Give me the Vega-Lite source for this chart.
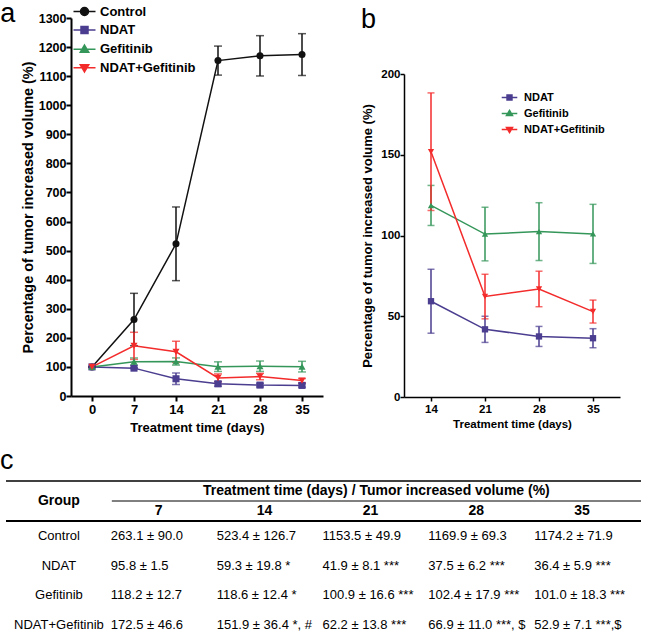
{
  "$schema": "https://vega.github.io/schema/vega-lite/v6.json",
  "padding": {"left": 0, "top": 0, "right": 0, "bottom": 0},
  "background": "white",
  "config": {
    "view": {"stroke": null},
    "font": "Liberation Sans",
    "title": {"font": "Liberation Sans", "color": "black"},
    "text": {"font": "Liberation Sans", "color": "black"},
    "axis": {
      "labelFont": "Liberation Sans", "titleFont": "Liberation Sans",
      "labelFontWeight": "bold", "titleFontWeight": "bold",
      "labelColor": "black", "titleColor": "black",
      "domainColor": "black", "domainWidth": 2, "tickColor": "black", "tickWidth": 2, "tickSize": 5,
      "grid": false, "format": "d"
    },
    "legend": {"labelFont": "Liberation Sans", "labelColor": "black", "labelFontWeight": "bold", "padding": 0}
  },
  "datasets": {
    "growth": [
      {"group": "Control", "day": 0, "mean": 100, "sd": 0},
      {"group": "Control", "day": 7, "mean": 263.1, "sd": 90.0},
      {"group": "Control", "day": 14, "mean": 523.4, "sd": 126.7},
      {"group": "Control", "day": 21, "mean": 1153.5, "sd": 49.9},
      {"group": "Control", "day": 28, "mean": 1169.9, "sd": 69.3},
      {"group": "Control", "day": 35, "mean": 1174.2, "sd": 71.9},
      {"group": "NDAT", "day": 0, "mean": 100, "sd": 0},
      {"group": "NDAT", "day": 7, "mean": 95.8, "sd": 1.5},
      {"group": "NDAT", "day": 14, "mean": 59.3, "sd": 19.8},
      {"group": "NDAT", "day": 21, "mean": 41.9, "sd": 8.1},
      {"group": "NDAT", "day": 28, "mean": 37.5, "sd": 6.2},
      {"group": "NDAT", "day": 35, "mean": 36.4, "sd": 5.9},
      {"group": "Gefitinib", "day": 0, "mean": 100, "sd": 0},
      {"group": "Gefitinib", "day": 7, "mean": 118.2, "sd": 12.7},
      {"group": "Gefitinib", "day": 14, "mean": 118.6, "sd": 12.4},
      {"group": "Gefitinib", "day": 21, "mean": 100.9, "sd": 16.6},
      {"group": "Gefitinib", "day": 28, "mean": 102.4, "sd": 17.9},
      {"group": "Gefitinib", "day": 35, "mean": 101.0, "sd": 18.3},
      {"group": "NDAT+Gefitinib", "day": 0, "mean": 100, "sd": 0},
      {"group": "NDAT+Gefitinib", "day": 7, "mean": 172.5, "sd": 46.6},
      {"group": "NDAT+Gefitinib", "day": 14, "mean": 151.9, "sd": 36.4},
      {"group": "NDAT+Gefitinib", "day": 21, "mean": 62.2, "sd": 13.8},
      {"group": "NDAT+Gefitinib", "day": 28, "mean": 66.9, "sd": 11.0},
      {"group": "NDAT+Gefitinib", "day": 35, "mean": 52.9, "sd": 7.1}
    ],
    "cells": [
      {"group": "Control", "col": "7", "cell": "263.1 ± 90.0"},
      {"group": "Control", "col": "14", "cell": "523.4 ± 126.7"},
      {"group": "Control", "col": "21", "cell": "1153.5 ± 49.9"},
      {"group": "Control", "col": "28", "cell": "1169.9 ± 69.3"},
      {"group": "Control", "col": "35", "cell": "1174.2 ± 71.9"},
      {"group": "NDAT", "col": "7", "cell": "95.8 ± 1.5"},
      {"group": "NDAT", "col": "14", "cell": "59.3 ± 19.8 *"},
      {"group": "NDAT", "col": "21", "cell": "41.9 ± 8.1 ***"},
      {"group": "NDAT", "col": "28", "cell": "37.5 ± 6.2 ***"},
      {"group": "NDAT", "col": "35", "cell": "36.4 ± 5.9 ***"},
      {"group": "Gefitinib", "col": "7", "cell": "118.2 ± 12.7"},
      {"group": "Gefitinib", "col": "14", "cell": "118.6 ± 12.4 *"},
      {"group": "Gefitinib", "col": "21", "cell": "100.9 ± 16.6 ***"},
      {"group": "Gefitinib", "col": "28", "cell": "102.4 ± 17.9 ***"},
      {"group": "Gefitinib", "col": "35", "cell": "101.0 ± 18.3 ***"},
      {"group": "NDAT+Gefitinib", "col": "7", "cell": "172.5 ± 46.6"},
      {"group": "NDAT+Gefitinib", "col": "14", "cell": "151.9 ± 36.4 *, #"},
      {"group": "NDAT+Gefitinib", "col": "21", "cell": "62.2 ± 13.8 ***"},
      {"group": "NDAT+Gefitinib", "col": "28", "cell": "66.9 ± 11.0 ***, $"},
      {"group": "NDAT+Gefitinib", "col": "35", "cell": "52.9 ± 7.1 ***,$"}
    ]
  },
  "vconcat": [
    {
      "hconcat": [
        {"width": 1, "height": 1, "data": {"values": []}, "mark": {"type": "point", "opacity": 0}},
        {
          "hconcat": [
            {
              "width": 252, "height": 378,
              "data": {"name": "growth"},
              "title": {"text": "a", "anchor": "start", "frame": "bounds", "fontSize": 27, "fontWeight": "normal", "baseline": "alphabetic", "offset": -44, "dx": -20},
              "encoding": {
                "x": {"field": "day", "type": "quantitative", "scale": {"domain": [-3.5, 38.5], "nice": false, "zero": false},
                      "axis": {"values": [0, 7, 14, 21, 28, 35], "title": "Treatment time (days)", "labelFontSize": 13, "titleFontSize": 13, "labelPadding": 2, "titlePadding": 5}},
                "y": {"field": "mean", "type": "quantitative", "scale": {"domain": [0, 1300], "nice": false},
                      "axis": {"values": [0, 100, 200, 300, 400, 500, 600, 700, 800, 900, 1000, 1100, 1200, 1300], "title": "Percentage of tumor increased volume (%)", "labelFontSize": 12.5, "titleFontSize": 14.4, "labelPadding": 0, "titlePadding": 3}},
                "color": {"field": "group", "type": "nominal",
                          "scale": {"domain": ["Control", "NDAT", "Gefitinib", "NDAT+Gefitinib"], "range": ["#111111", "#4b3d8f", "#35965a", "#f32b2b"]},
                          "legend": {"orient": "none", "legendX": 7, "legendY": -13, "title": null, "labelFontSize": 13, "symbolSize": 100, "rowPadding": 4.4, "labelOffset": 9,
                                     "encode": {"symbols": {"update": {
                                       "shape": {"signal": "datum.value === 'Control' ? 'M-2.2,0H2.2M-0.8,0C-0.8,-0.44,-0.44,-0.8,0,-0.8C0.44,-0.8,0.8,-0.44,0.8,0C0.8,0.44,0.44,0.8,0,0.8C-0.44,0.8,-0.8,0.44,-0.8,0Z' : datum.value === 'NDAT' ? 'M-2.2,0H2.2M-0.7,-0.7H0.7V0.7H-0.7Z' : datum.value === 'Gefitinib' ? 'M-2.2,0H2.2M0,-0.85L0.85,0.6H-0.85Z' : 'M-2.2,0H2.2M0,0.85L0.85,-0.6H-0.85Z'"},
                                       "strokeWidth": {"value": 1.5},
                                       "opacity": {"value": 1}
                                     }}}}}
              },
              "layer": [
                {"mark": {"type": "errorbar", "ticks": {"size": 8, "thickness": 1.5}, "thickness": 1.5}, "encoding": {"yError": {"field": "sd"}}},
                {"mark": {"type": "line", "strokeWidth": 1.5}},
                {"transform": [{"filter": "datum.group === 'Control'"}], "mark": {"type": "point", "filled": true, "opacity": 1, "size": 50, "shape": "circle"}},
                {"transform": [{"filter": "datum.group === 'NDAT'"}], "mark": {"type": "point", "filled": true, "opacity": 1, "size": 50, "shape": "square"}},
                {"transform": [{"filter": "datum.group === 'Gefitinib'"}], "mark": {"type": "point", "filled": true, "opacity": 1, "size": 50, "shape": "triangle-up"}},
                {"transform": [{"filter": "datum.group === 'NDAT+Gefitinib'"}], "mark": {"type": "point", "filled": true, "opacity": 1, "size": 50, "shape": "triangle-down"}}
              ]
            },
            {
              "vconcat": [
                {"width": 216, "height": 30, "data": {"values": []}, "mark": {"type": "point", "opacity": 0},
                 "title": {"text": "b", "anchor": "start", "frame": "bounds", "fontSize": 27, "fontWeight": "normal", "baseline": "alphabetic", "offset": -37, "dx": -43}},
                {
                  "width": 216, "height": 323,
                  "data": {"name": "growth"},
                  "transform": [{"filter": "datum.group !== 'Control' && datum.day >= 14"}],
                  "encoding": {
                    "x": {"field": "day", "type": "quantitative", "scale": {"domain": [10.5, 38.5], "nice": false, "zero": false},
                          "axis": {"values": [14, 21, 28, 35], "title": "Treatment time (days)", "labelFontSize": 11.5, "titleFontSize": 11.5, "labelPadding": 2, "titlePadding": 4, "domainWidth": 1.5, "tickWidth": 1.5, "tickSize": 4}},
                    "y": {"field": "mean", "type": "quantitative", "scale": {"domain": [0, 200], "nice": false},
                          "axis": {"values": [0, 50, 100, 150, 200], "title": "Percentage of tumor increased volume (%)", "labelFontSize": 11.5, "titleFontSize": 13, "labelPadding": 0, "titlePadding": 6, "domainWidth": 1.5, "tickWidth": 1.5, "tickSize": 4}},
                    "color": {"field": "group", "type": "nominal",
                              "scale": {"domain": ["NDAT", "Gefitinib", "NDAT+Gefitinib"], "range": ["#4b3d8f", "#35965a", "#f32b2b"]},
                              "legend": {"orient": "none", "legendX": 100, "legendY": 74, "title": null, "labelFontSize": 11, "symbolSize": 50, "rowPadding": 4, "labelOffset": 9,
                                         "encode": {"symbols": {"update": {
                                           "shape": {"signal": "datum.value === 'NDAT' ? 'M-2.2,0H2.2M-0.7,-0.7H0.7V0.7H-0.7Z' : datum.value === 'Gefitinib' ? 'M-2.2,0H2.2M0,-0.85L0.85,0.6H-0.85Z' : 'M-2.2,0H2.2M0,0.85L0.85,-0.6H-0.85Z'"},
                                           "strokeWidth": {"value": 1.5},
                                           "opacity": {"value": 1}
                                         }}}}}
                  },
                  "layer": [
                    {"mark": {"type": "errorbar", "ticks": {"size": 7, "thickness": 1.5}, "thickness": 1.5}, "encoding": {"yError": {"field": "sd"}}},
                    {"mark": {"type": "line", "strokeWidth": 1.5}},
                    {"transform": [{"filter": "datum.group === 'NDAT'"}], "mark": {"type": "point", "filled": true, "opacity": 1, "size": 40, "shape": "square"}},
                    {"transform": [{"filter": "datum.group === 'Gefitinib'"}], "mark": {"type": "point", "filled": true, "opacity": 1, "size": 40, "shape": "triangle-up"}},
                    {"transform": [{"filter": "datum.group === 'NDAT+Gefitinib'"}], "mark": {"type": "point", "filled": true, "opacity": 1, "size": 40, "shape": "triangle-down"}}
                  ]
                }
              ],
              "spacing": 20
            }
          ],
          "spacing": 38,
          "resolve": {"scale": {"color": "independent"}, "legend": {"color": "independent"}}
        }
      ],
      "spacing": -7,
      "resolve": {"scale": {"color": "independent"}, "legend": {"color": "independent"}}
    },
    {
      "vconcat": [
        {
          "width": 635, "height": 40,
          "title": {"text": "c", "anchor": "start", "frame": "group", "fontSize": 27, "fontWeight": "normal", "baseline": "alphabetic", "offset": -16, "dx": -6},
          "layer": [
            {"data": {"values": [{"col": "Group", "row": "h1", "label": "Group"}]},
             "mark": {"type": "text", "fontSize": 14, "fontWeight": "bold"},
             "encoding": {
               "x": {"field": "col", "type": "ordinal", "scale": {"type": "band", "domain": ["Group", "7", "14", "21", "28", "35"], "paddingInner": 0, "paddingOuter": 0}, "axis": null},
               "y": {"field": "row", "type": "ordinal", "bandPosition": 1, "scale": {"type": "band", "domain": ["h1", "h2"], "paddingInner": 0, "paddingOuter": 0}, "axis": null},
               "text": {"field": "label"}}},
            {"data": {"values": [{"col": "21", "row": "h1", "label": "Treatment time (days) / Tumor increased volume (%)"}]},
             "mark": {"type": "text", "fontSize": 14, "fontWeight": "bold"},
             "encoding": {
               "x": {"field": "col", "type": "ordinal", "scale": {"type": "band", "domain": ["Group", "7", "14", "21", "28", "35"], "paddingInner": 0, "paddingOuter": 0}, "axis": null},
               "y": {"field": "row", "type": "ordinal", "scale": {"type": "band", "domain": ["h1", "h2"], "paddingInner": 0, "paddingOuter": 0}, "axis": null},
               "text": {"field": "label"}}},
            {"data": {"values": [{"col": "7", "row": "h2"}, {"col": "14", "row": "h2"}, {"col": "21", "row": "h2"}, {"col": "28", "row": "h2"}, {"col": "35", "row": "h2"}]},
             "mark": {"type": "text", "fontSize": 14, "fontWeight": "bold", "dx": -6},
             "encoding": {
               "x": {"field": "col", "type": "ordinal", "scale": {"type": "band", "domain": ["Group", "7", "14", "21", "28", "35"], "paddingInner": 0, "paddingOuter": 0}, "axis": null},
               "y": {"field": "row", "type": "ordinal", "scale": {"type": "band", "domain": ["h1", "h2"], "paddingInner": 0, "paddingOuter": 0}, "axis": null},
               "text": {"field": "col"}}},
            {"data": {"values": [{"row": "h1"}]},
             "mark": {"type": "rule", "strokeWidth": 1.5, "color": "black"},
             "encoding": {"y": {"field": "row", "type": "ordinal", "bandPosition": 0, "scale": {"type": "band", "domain": ["h1", "h2"], "paddingInner": 0, "paddingOuter": 0}, "axis": null}}},
            {"data": {"values": [{"row": "h2", "col": "7"}]},
             "mark": {"type": "rule", "strokeWidth": 1, "color": "black"},
             "encoding": {
               "x": {"field": "col", "type": "ordinal", "bandPosition": 0, "scale": {"type": "band", "domain": ["Group", "7", "14", "21", "28", "35"], "paddingInner": 0, "paddingOuter": 0}, "axis": null},
               "x2": {"value": "width"},
               "y": {"field": "row", "type": "ordinal", "bandPosition": 0, "scale": {"type": "band", "domain": ["h1", "h2"], "paddingInner": 0, "paddingOuter": 0}, "axis": null}}},
            {"data": {"values": [{"row": "h2"}]},
             "mark": {"type": "rule", "strokeWidth": 2, "color": "black"},
             "encoding": {"y": {"field": "row", "type": "ordinal", "bandPosition": 1, "scale": {"type": "band", "domain": ["h1", "h2"], "paddingInner": 0, "paddingOuter": 0}, "axis": null}}}
          ]
        },
        {
          "width": 635, "height": 119,
          "data": {"name": "cells"},
          "layer": [
            {"mark": {"type": "text", "fontSize": 13, "align": "left", "dx": -1},
             "encoding": {
               "x": {"field": "col", "type": "ordinal", "bandPosition": 0, "scale": {"type": "band", "domain": ["Group", "7", "14", "21", "28", "35"], "paddingInner": 0, "paddingOuter": 0}, "axis": null},
               "y": {"field": "group", "type": "ordinal", "scale": {"type": "band", "domain": ["Control", "NDAT", "Gefitinib", "NDAT+Gefitinib"], "paddingInner": 0, "paddingOuter": 0}, "axis": null},
               "text": {"field": "cell"}}},
            {"data": {"values": [{"col": "Group", "group": "Control"}, {"col": "Group", "group": "NDAT"}, {"col": "Group", "group": "Gefitinib"}, {"col": "Group", "group": "NDAT+Gefitinib"}]},
             "mark": {"type": "text", "fontSize": 13},
             "encoding": {
               "x": {"field": "col", "type": "ordinal", "scale": {"type": "band", "domain": ["Group", "7", "14", "21", "28", "35"], "paddingInner": 0, "paddingOuter": 0}, "axis": null},
               "y": {"field": "group", "type": "ordinal", "scale": {"type": "band", "domain": ["Control", "NDAT", "Gefitinib", "NDAT+Gefitinib"], "paddingInner": 0, "paddingOuter": 0}, "axis": null},
               "text": {"field": "group"}}},
            {"data": {"values": [{"group": "NDAT+Gefitinib"}]},
             "mark": {"type": "rule", "strokeWidth": 2, "color": "black"},
             "encoding": {"y": {"field": "group", "type": "ordinal", "bandPosition": 1, "scale": {"type": "band", "domain": ["Control", "NDAT", "Gefitinib", "NDAT+Gefitinib"], "paddingInner": 0, "paddingOuter": 0}, "axis": null}}}
          ]
        }
      ],
      "spacing": 0,
      "bounds": "flush"
    }
  ],
  "spacing": 13,
  "resolve": {"scale": {"color": "independent"}, "legend": {"color": "independent"}}
}
